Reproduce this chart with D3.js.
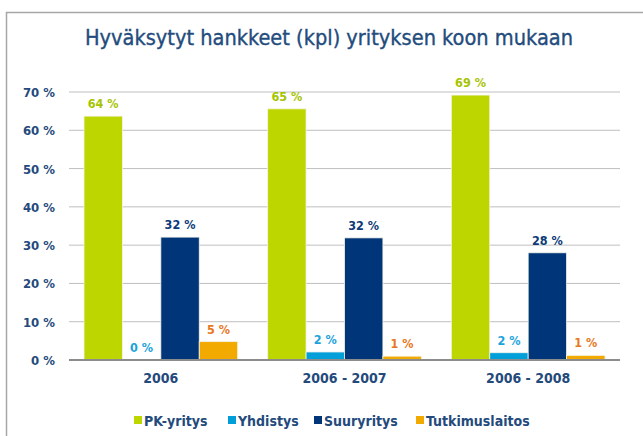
<!DOCTYPE html>
<html><head><meta charset="utf-8">
<script src="https://cdn.jsdelivr.net/npm/d3@7"></script>
<style>body{margin:0;background:#fff;}svg{display:block;font-family:"DejaVu Sans Condensed","DejaVu Sans",sans-serif;}</style>
</head><body>
<svg id="c" width="643" height="436"></svg>
<script>
const title = "Hyväksytyt hankkeet (kpl) yrityksen koon mukaan";
const categories = ["2006", "2006 - 2007", "2006 - 2008"];
const seriesNames = ["PK-yritys", "Yhdistys", "Suuryritys", "Tutkimuslaitos"];
const pkValues = [63.7, 65.6, 69.2];
const yhdistysValues = [0, 2.1, 1.9];
const suurValues = [32.1, 31.9, 28.0];
const tutkValues = [4.8, 1.0, 1.2];
const valueLabels = [["64 %","65 %","69 %"],["0 %","2 %","2 %"],["32 %","32 %","28 %"],["5 %","1 %","1 %"]];
const yTicks = [0,10,20,30,40,50,60,70];
const barColors = ["#BED600","#009FDA","#00357A","#F2A900"];
const labelColors = ["#A6C400","#1CA3DC","#0D3A78","#E87722"];

const series = [pkValues, yhdistysValues, suurValues, tutkValues];
const svg = d3.select("#c");
const textColor = "#244A7C";

// frame
svg.append("path").attr("d","M6.5,436 V12.5 H643").attr("fill","none").attr("stroke","#a6a6a6").attr("stroke-width",1.5);

svg.append("text").attr("x",329).attr("y",45).attr("text-anchor","middle")
  .attr("font-size",21.5).attr("fill","#234C7D").attr("stroke","#234C7D").attr("stroke-width",0.35)
  .attr("textLength",488).attr("lengthAdjust","spacingAndGlyphs").text(title);

const x0 = d3.scaleBand().domain(categories).range([69,620]).paddingInner(0).paddingOuter(0);
const x1 = d3.scaleBand().domain(d3.range(4)).range([15, x0.bandwidth()-15]).padding(0);
const y = d3.scaleLinear().domain([0,70]).range([360,92]);

// grid
svg.append("g").selectAll("line").data(yTicks.filter(d=>d>0)).join("line")
  .attr("x1",69).attr("x2",620).attr("y1",d=>y(d)).attr("y2",d=>y(d))
  .attr("stroke","#bfbfbf").attr("stroke-width",1);

const yAxis = svg.append("g").attr("transform","translate(55,0)")
  .call(d3.axisLeft(y).tickValues(yTicks).tickSize(0).tickFormat(d=>d+" %"));
yAxis.select(".domain").remove();
yAxis.selectAll("text").attr("font-size",13).attr("font-weight","bold").attr("fill",textColor)
  .attr("font-family","DejaVu Sans Condensed").attr("dy","0.35em").attr("x",0);

// bars
const groups = svg.append("g").selectAll("g").data(categories).join("g")
  .attr("transform",d=>`translate(${x0(d)},0)`);
groups.each(function(cat, ci){
  const g = d3.select(this);
  series.forEach((vals, si)=>{
    const v = vals[ci];
    if (v > 0) {
      g.append("rect").attr("x",x1(si)).attr("width",x1.bandwidth())
        .attr("y",y(v)).attr("height",y(0)-y(v))
        .attr("fill",barColors[si]).attr("stroke","#f4f4e8").attr("stroke-width",0.8);
    }
    g.append("text").attr("x",x1(si)+x1.bandwidth()/2).attr("y",y(v)-8)
      .attr("text-anchor","middle").attr("font-size",12.5).attr("font-weight","bold")
      .attr("fill",labelColors[si]).text(valueLabels[si][ci]);
  });
});

// baseline
svg.append("line").attr("x1",69).attr("x2",620).attr("y1",y(0)).attr("y2",y(0))
  .attr("stroke","#8c8c8c").attr("stroke-width",2);

const xAxis = svg.append("g").attr("transform","translate(0,361)")
  .call(d3.axisBottom(x0).tickSize(0));
xAxis.select(".domain").remove();
xAxis.selectAll("text").attr("font-size",14).attr("font-weight","bold").attr("fill",textColor)
  .attr("font-family","DejaVu Sans Condensed").attr("y",0).attr("dy","1.55em");

// legend
const legX = [134,228,314,416];
const leg = svg.append("g").selectAll("g").data(seriesNames).join("g")
  .attr("transform",(d,i)=>`translate(${legX[i]},416)`);
leg.append("rect").attr("width",8).attr("height",8).attr("fill",(d,i)=>barColors[i]);
leg.append("text").attr("x",10).attr("y",9.5).attr("font-size",14).attr("font-weight","bold")
  .attr("fill",textColor).text(d=>d);
</script>
</body></html>
